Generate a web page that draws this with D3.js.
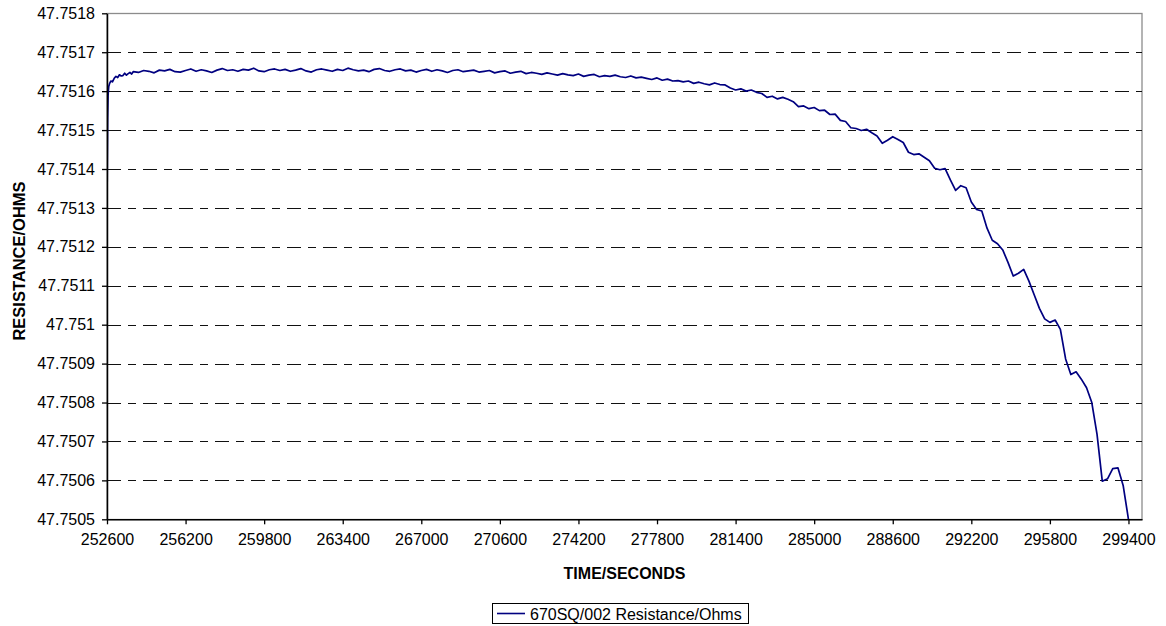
<!DOCTYPE html>
<html>
<head>
<meta charset="utf-8">
<script src="https://cdn.jsdelivr.net/npm/d3@7"></script>
<style>
  html, body { margin: 0; padding: 0; background: #fff; }
  svg { display: block; }
  text { font-family: "Liberation Sans", Arial, sans-serif; fill: #000; }
</style>
</head>
<body>
<svg id="chart" width="1166" height="626"></svg>
<script>
// ---- data ----
const seriesName = "670SQ/002 Resistance/Ohms";
const xTitle = "TIME/SECONDS";
const yTitle = "RESISTANCE/OHMS";

const xTicks = [252600, 256200, 259800, 263400, 267000, 270600, 274200, 277800, 281400, 285000, 288600, 292200, 295800, 299400];
const xTickLabels = ["252600", "256200", "259800", "263400", "267000", "270600", "274200", "277800", "281400", "285000", "288600", "292200", "295800", "299400"];

const yTicks = [47.7505, 47.7506, 47.7507, 47.7508, 47.7509, 47.751, 47.7511, 47.7512, 47.7513, 47.7514, 47.7515, 47.7516, 47.7517, 47.7518];
const yTickLabels = ["47.7505", "47.7506", "47.7507", "47.7508", "47.7509", "47.751", "47.7511", "47.7512", "47.7513", "47.7514", "47.7515", "47.7516", "47.7517", "47.7518"];

const times = [
  252600, 252615, 252630, 252650, 252680, 252720, 252780, 252850, 252930, 253010,
  253090, 253170, 253250, 253330, 253410, 253490, 253570, 253650, 253730,
  253800, 254040, 254280, 254520, 254760, 255000, 255240, 255480, 255720, 255960,
  256200, 256440, 256680, 256920, 257160, 257400, 257640, 257880, 258120, 258360,
  258600, 258840, 259080, 259320, 259560, 259800, 260040, 260280, 260520, 260760,
  261000, 261240, 261480, 261720, 261960, 262200, 262440, 262680, 262920, 263160,
  263400, 263640, 263880, 264120, 264360, 264600, 264840, 265080, 265320, 265560,
  265800, 266040, 266280, 266520, 266760, 267000, 267240, 267480, 267720, 267960,
  268200, 268440, 268680, 268920, 269160, 269400, 269640, 269880, 270120, 270360,
  270600, 270840, 271080, 271320, 271560, 271800, 272040, 272280, 272520, 272760,
  273000, 273240, 273480, 273720, 273960, 274200, 274440, 274680, 274920, 275160,
  275400, 275640, 275880, 276120, 276360, 276600, 276840, 277080, 277320, 277560,
  277800, 278040, 278280, 278520, 278760, 279000, 279240, 279480, 279720, 279960,
  280200, 280440, 280680, 280920, 281160, 281400, 281640, 281880, 282120, 282360,
  282600, 282840, 283080, 283320, 283560, 283800, 284040, 284280, 284520, 284760,
  285000, 285240, 285480, 285720, 285960, 286200, 286440, 286680, 286920, 287160,
  287400, 287640, 287880, 288120, 288360, 288600, 288840, 289080, 289320, 289560,
  289800, 290040, 290280, 290520, 290760, 291000, 291240, 291480, 291720, 291960,
  292200, 292440, 292680, 292920, 293160, 293400, 293640, 293880, 294120, 294360,
  294600, 294840, 295080, 295320, 295560, 295800, 296040, 296280, 296520, 296760,
  297000, 297240, 297480, 297720, 297960, 298200, 298440, 298680, 298920, 299160,
  299400
];

const resistance = [
  47.751295, 47.751420, 47.751530, 47.751590, 47.751612, 47.751620, 47.751626, 47.751624, 47.751633, 47.751638,
  47.751635, 47.751642, 47.751639, 47.751640, 47.751646, 47.751641, 47.751645, 47.751648, 47.751644,
  // 253800 ...
  47.751650, 47.751648, 47.751653, 47.751651, 47.751647, 47.751654, 47.751652, 47.751656, 47.751650, 47.751649,
  47.751653, 47.751657, 47.751651, 47.751655, 47.751652, 47.751648, 47.751654, 47.751658, 47.751653, 47.751655,
  47.751651, 47.751656, 47.751654, 47.751659, 47.751652, 47.751650, 47.751655, 47.751657, 47.751653, 47.751656,
  47.751651, 47.751654, 47.751658, 47.751652, 47.751649, 47.751655, 47.751657, 47.751654, 47.751651, 47.751656,
  47.751653, 47.751659, 47.751655, 47.751652, 47.751654, 47.751650, 47.751656, 47.751658, 47.751653, 47.751651,
  47.751655, 47.751657, 47.751652, 47.751654, 47.751649, 47.751653, 47.751656, 47.751651, 47.751655, 47.751652,
  47.751648, 47.751653, 47.751655, 47.751650, 47.751652, 47.751654, 47.751649, 47.751651, 47.751653, 47.751647,
  47.751650, 47.751652, 47.751646, 47.751649, 47.751651, 47.751645, 47.751648, 47.751646, 47.751643, 47.751647,
  47.751644, 47.751641, 47.751645, 47.751642, 47.751640, 47.751644, 47.751638, 47.751641, 47.751643, 47.751637,
  47.751640,
  // 275640 ...
  47.751638, 47.751641, 47.751637, 47.751635, 47.751639, 47.751634, 47.751636, 47.751633, 47.751630, 47.751634,
  47.751628, 47.751631, 47.751626, 47.751627, 47.751624, 47.751626, 47.751620, 47.751623, 47.751619, 47.751616,
  47.751621, 47.751617, 47.751616,
  // 281160 ...
  47.751608, 47.751603, 47.751606, 47.751600, 47.751603, 47.751597,
  47.751594, 47.751584, 47.751587, 47.751580, 47.751584, 47.751579, 47.751573, 47.751560, 47.751562, 47.751555,
  47.751558, 47.751550, 47.751551, 47.751540, 47.751541, 47.751525, 47.751522, 47.751506, 47.751504, 47.751499,
  47.751502, 47.751493, 47.751485, 47.751466, 47.751474, 47.751483, 47.751476, 47.751468, 47.751443, 47.751437,
  47.751439, 47.751430, 47.751421, 47.751402, 47.751398, 47.751401, 47.751372, 47.751345, 47.751357, 47.751352,
  47.751315, 47.751296, 47.751292, 47.751248, 47.751217, 47.751208, 47.751192, 47.751160, 47.751125, 47.751132,
  47.751142, 47.751112, 47.751077, 47.751042, 47.751015, 47.751006, 47.751012, 47.750988, 47.750912, 47.750872,
  47.750879, 47.750860, 47.750838, 47.750800, 47.750718, 47.750598, 47.750604, 47.750630, 47.750632, 47.750586,
  47.750500
];

// ---- layout ----
const W = 1166, H = 626;
const plot = { left: 107, right: 1142, top: 13.3, bottom: 519.3 };

const svg = d3.select("#chart");
svg.append("rect").attr("width", W).attr("height", H).attr("fill", "#fff");

const x = d3.scaleLinear().domain([252600, 300020]).range([plot.left, plot.right]);
const y = d3.scaleLinear().domain([47.7505, 47.7518]).range([plot.bottom, plot.top]);

// plot frame
svg.append("rect")
  .attr("x", plot.left).attr("y", Math.round(plot.top) + 0.5)
  .attr("width", plot.right - plot.left).attr("height", plot.bottom - plot.top)
  .attr("fill", "none").attr("stroke", "#8c8c8c").attr("stroke-width", 1.3);

// gridlines
svg.append("g")
  .selectAll("line")
  .data(yTicks.slice(1, -1))
  .join("line")
  .attr("x1", plot.left).attr("x2", plot.right)
  .attr("y1", d => Math.round(y(d)) + 0.5).attr("y2", d => Math.round(y(d)) + 0.5)
  .attr("stroke", "#111").attr("stroke-width", 1)
  .attr("stroke-dasharray", "14,7,8,7")
  .attr("shape-rendering", "crispEdges");

// clip for series
svg.append("clipPath").attr("id", "clip")
  .append("rect")
  .attr("x", plot.left).attr("y", plot.top)
  .attr("width", plot.right - plot.left).attr("height", plot.bottom - plot.top + 1);

const pts = times.map((t, i) => [t, resistance[i]]);
const line = d3.line().x(d => x(d[0])).y(d => y(d[1]));
svg.append("path")
  .attr("clip-path", "url(#clip)")
  .attr("d", line(pts))
  .attr("fill", "none")
  .attr("stroke", "#000080")
  .attr("stroke-width", 1.7)
  .attr("stroke-linejoin", "round");

// y axis
const yAxis = d3.axisLeft(y)
  .tickValues(yTicks)
  .tickFormat((d, i) => yTickLabels[i])
  .tickSizeInner(5).tickSizeOuter(0).tickPadding(7);
const gy = svg.append("g").attr("transform", `translate(${plot.left},0)`).call(yAxis);
gy.select(".domain").attr("stroke", "#000").attr("stroke-width", 1.5);
gy.selectAll(".tick line").attr("stroke", "#000").attr("stroke-width", 1.3);
gy.selectAll(".tick text")
  .attr("font-family", '"Liberation Sans", Arial, sans-serif')
  .attr("font-size", 16).attr("fill", "#000");

// x axis
const xAxis = d3.axisBottom(x)
  .tickValues(xTicks)
  .tickFormat((d, i) => xTickLabels[i])
  .tickSizeInner(5).tickSizeOuter(0).tickPadding(9);
const gx = svg.append("g").attr("transform", `translate(0,${plot.bottom})`).call(xAxis);
gx.select(".domain").attr("stroke", "#000").attr("stroke-width", 1.5);
gx.selectAll(".tick line").attr("stroke", "#000").attr("stroke-width", 1.3);
gx.selectAll(".tick text")
  .attr("font-family", '"Liberation Sans", Arial, sans-serif')
  .attr("font-size", 16).attr("fill", "#000");

// axis titles
svg.append("text")
  .attr("x", (plot.left + plot.right) / 2).attr("y", 579)
  .attr("text-anchor", "middle")
  .attr("font-size", 16).attr("font-weight", "bold")
  .text(xTitle);

svg.append("text")
  .attr("transform", `translate(24.5,261) rotate(-90)`)
  .attr("text-anchor", "middle")
  .attr("font-size", 16.5).attr("font-weight", "bold")
  .text(yTitle);

// legend
const lg = svg.append("g");
lg.append("rect")
  .attr("x", 492.5).attr("y", 603.5).attr("width", 256).attr("height", 20)
  .attr("fill", "#fff").attr("stroke", "#000").attr("stroke-width", 1);
lg.append("line")
  .attr("x1", 497).attr("x2", 525).attr("y1", 613.5).attr("y2", 613.5)
  .attr("stroke", "#000080").attr("stroke-width", 1.6);
lg.append("text")
  .attr("x", 530).attr("y", 619.5)
  .attr("font-size", 16)
  .text(seriesName);
</script>
</body>
</html>
